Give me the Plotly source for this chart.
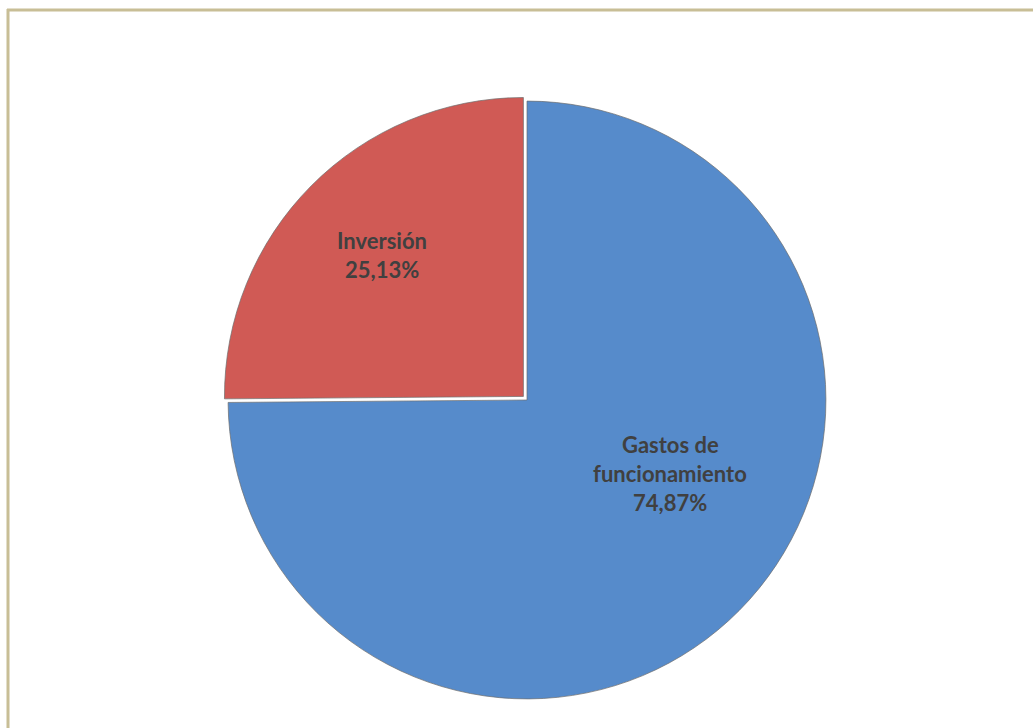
import plotly.graph_objects as go

categories = ["Gastos de funcionamiento", "Inversión"]
values = [74.87, 25.13]
colors = ["#568BCB", "#D05A55"]
pulls = [0, 0.017]

# label layout: line breaks and anchor (pixel centre of each label block)
label_lines = {
    "Gastos de funcionamiento": ["Gastos de", "funcionamiento"],
    "Inversión": ["Inversión"],
}
label_anchor_px = {
    "Gastos de funcionamiento": (670, 473),
    "Inversión": (382, 255),
}
LINE_GAP = 29

W, H = 1033, 728

fig = go.Figure(go.Pie(
    labels=categories,
    values=values,
    sort=False,
    direction="clockwise",
    rotation=0,
    pull=pulls,
    marker=dict(colors=colors, line=dict(color="rgba(110,110,110,0.7)", width=1)),
    textinfo="none",
    showlegend=False,
    hoverinfo="label+percent",
    domain=dict(x=[223 / W, 831 / W], y=[1 - 704 / H, 1 - 96 / H]),
))

total = sum(values)
annotations = []
for cat, val in zip(categories, values):
    pct = f"{val / total * 100:.2f}".replace(".", ",") + "%"
    lines = label_lines[cat] + [pct]
    cx, cy = label_anchor_px[cat]
    n = len(lines)
    for i, t in enumerate(lines):
        py = cy + (i - (n - 1) / 2) * LINE_GAP
        annotations.append(dict(
            x=cx / W, y=1 - py / H, xref="paper", yref="paper",
            text=f"<b>{t}</b>", showarrow=False, xanchor="center", yanchor="middle",
            font=dict(family="Lato, 'Open Sans', sans-serif", size=22, color="#404040"),
        ))

frame_color = "#C8BE96"
fig.update_layout(
    width=W, height=H,
    margin=dict(l=0, r=0, t=0, b=0),
    paper_bgcolor="white",
    plot_bgcolor="white",
    separators=",.",
    annotations=annotations,
    shapes=[
        dict(type="line", xref="paper", yref="paper", x0=7 / W, x1=1, y0=1 - 10 / H, y1=1 - 10 / H,
             line=dict(color=frame_color, width=3)),
        dict(type="line", xref="paper", yref="paper", x0=8 / W, x1=8 / W, y0=0, y1=1 - 9 / H,
             line=dict(color=frame_color, width=3)),
    ],
)

fig.write_html("out.html")
